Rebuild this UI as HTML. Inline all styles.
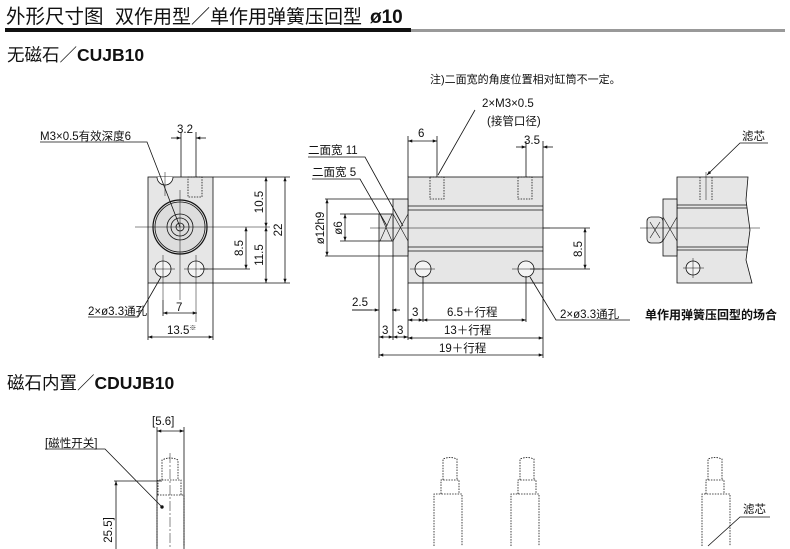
<!DOCTYPE html>
<html><head><meta charset="utf-8"><style>
html,body{margin:0;padding:0;background:#fff}
svg{display:block}
text{font-family:"Liberation Sans","Noto Sans CJK SC",sans-serif;fill:#111}
</style></head><body>
<svg width="790" height="549" viewBox="0 0 790 549" xmlns="http://www.w3.org/2000/svg">
<defs>
<marker id="a" viewBox="0 0 8 6" refX="8" refY="3" markerWidth="6" markerHeight="4" orient="auto-start-reverse"><path d="M0,0L8,3L0,6z" fill="#111"/></marker>
</defs>
<!-- Header -->
<text x="6" y="23" font-size="19.5">外形尺寸图</text>
<text x="115" y="23" font-size="19">双作用型／单作用弹簧压回型</text>
<text x="370" y="23" font-size="19" font-weight="bold">ø10</text>
<rect x="5" y="28" width="406" height="4" fill="#111"/>
<rect x="411" y="29" width="374" height="3" fill="#999"/>
<text x="7" y="61" font-size="17.5" font-weight="bold"><tspan font-weight="normal">无磁石／</tspan>CUJB10</text>
<text x="430" y="83" font-size="11">注)二面宽的角度位置相对缸筒不一定。</text>

<g stroke="#111" stroke-width="0.8" fill="none">
<!-- FRONT VIEW -->
<rect x="148" y="177" width="65" height="106" fill="#e6e6e6"/>
<path d="M157,177 A8,8 0 0 0 173,177" fill="#fff"/>
<rect x="188" y="177" width="14" height="20" stroke-dasharray="1.5 1.2"/>
<circle cx="180" cy="227" r="27" fill="#ddd" stroke-width="1.2"/>
<circle cx="180" cy="227" r="25"/>
<circle cx="180" cy="227" r="13"/>
<circle cx="180" cy="227" r="9"/>
<circle cx="180" cy="227" r="4"/>
<circle cx="163" cy="269" r="8" fill="#f4f4f4"/>
<circle cx="196" cy="269" r="8" fill="#f4f4f4"/>
<path d="M135,227H270 M180,190V300 M163,255V300 M196,255V322 M152,269H175 M184,269H208 M165,172V196" stroke-width="0.5"/>
<!-- dims front -->
<path d="M181,132V177 M196,132V177 M148,283V340 M213,283V340 M163,300V316 M213,177H290 M213,283H290 M200,269H250"/>
<path d="M171,138H181" marker-end="url(#a)"/><path d="M206,138H196" marker-end="url(#a)"/>
<path d="M163,313H197" marker-start="url(#a)" marker-end="url(#a)"/>
<path d="M148,337H213" marker-start="url(#a)" marker-end="url(#a)"/>
<path d="M266,177V227" marker-start="url(#a)" marker-end="url(#a)"/>
<path d="M266,227V283" marker-start="url(#a)" marker-end="url(#a)"/>
<path d="M285,177V283" marker-start="url(#a)" marker-end="url(#a)"/>
<path d="M246,227V269" marker-start="url(#a)" marker-end="url(#a)"/>
<path d="M40,142H147L180,227"/>
<path d="M88,317H138L161,277"/>

<!-- SIDE VIEW -->
<rect x="408" y="177" width="135" height="106" fill="#e6e6e6"/>
<path d="M408,206H543 M408,210H543 M408,247H543 M408,251H543"/>
<rect x="393" y="199" width="15" height="57" fill="#e6e6e6"/>
<rect x="379" y="214" width="14" height="27" fill="#e6e6e6"/>
<path d="M393,214L408,241M393,241L408,214 M380,214L392,241M380,241L392,214" stroke-width="0.6"/>
<rect x="430" y="177" width="14" height="22" stroke-dasharray="1.5 1.2"/>
<rect x="518" y="177" width="14" height="22" stroke-dasharray="1.5 1.2"/>
<circle cx="423" cy="269" r="8" fill="#f4f4f4"/>
<circle cx="526" cy="269" r="8" fill="#f4f4f4"/>
<path d="M370,228H550 M410,269H435 M512,269H540" stroke-width="0.5"/>
<!-- side dims -->
<path d="M408,136V177 M437,136V177 M526,141V177 M543,141V177 M325,199H393 M340,214H380 M340,241H380 M543,228H590 M530,269H590 M379,241V358 M393,256V340 M408,283V340 M543,283V358 M423,276V322 M526,276V322"/>
<path d="M408,141H437" marker-start="url(#a)" marker-end="url(#a)"/>
<path d="M516,147H526" marker-end="url(#a)"/><path d="M553,147H543" marker-end="url(#a)"/>
<path d="M327,199V256" marker-start="url(#a)" marker-end="url(#a)"/>
<path d="M325,256H393"/>
<path d="M345,214V241" marker-start="url(#a)" marker-end="url(#a)"/>
<path d="M585,228V269" marker-start="url(#a)" marker-end="url(#a)"/>
<path d="M352,310H379" marker-end="url(#a)"/><path d="M400,310H392" marker-end="url(#a)"/>
<path d="M352,310H372"/>
<path d="M379,337H393" marker-start="url(#a)" marker-end="url(#a)"/>
<path d="M393,337H408" marker-start="url(#a)" marker-end="url(#a)"/>
<path d="M408,320H423" marker-start="url(#a)" marker-end="url(#a)"/>
<path d="M423,320H526" marker-start="url(#a)" marker-end="url(#a)"/>
<path d="M408,338H543" marker-start="url(#a)" marker-end="url(#a)"/>
<path d="M379,355H543" marker-start="url(#a)" marker-end="url(#a)"/>
<path d="M308,157H365L403,226"/>
<path d="M312,179H360L387,226"/>
<path d="M475,110L438,175"/>
<path d="M630,320H556L530,277"/>

<!-- RIGHT PARTIAL -->
<path d="M677,177H748L746,200L750,230L746,260L752,283H677Z" fill="#e6e6e6"/>
<path d="M677,205H747 M677,208H747 M677,247H748 M677,250H748"/>
<rect x="663" y="199" width="14" height="57" fill="#e6e6e6"/>
<rect x="647" y="217" width="16" height="26" fill="#e6e6e6" rx="4"/>
<path d="M663,217L677,241M663,241L677,217 M650,222L660,238M650,238L660,222" stroke-width="0.6"/>
<path d="M700,177V200 M712,177V200" stroke-dasharray="1.5 1.2"/>
<path d="M706,172V200" stroke-width="0.5"/>
<circle cx="693" cy="268" r="7" fill="#f4f4f4"/>
<path d="M640,228H760 M683,268H704 M693,258V278" stroke-width="0.5"/>
<path d="M768,143H740L707,175" marker-end="url(#a)"/>

<!-- BOTTOM SECTION -->
<path d="M157,427V549 M184,427V549"/>
<path d="M157,431H184" marker-start="url(#a)" marker-end="url(#a)"/>
<path d="M170,453V549" stroke-width="0.5" stroke-dasharray="10 2 2 2"/>
<path d="M162,480V460Q170,456 178,460V480 M158,495V480H181V495 M157,546V495H184V546" stroke-dasharray="1.5 1.2"/>
<path d="M114,481H162"/>
<path d="M116,549V481" marker-end="url(#a)"/>
<path d="M45,449H105L162,507"/>
<circle cx="162" cy="507" r="1.3" fill="#111"/>
<g stroke-dasharray="1.5 1.2">
<path d="M443,480V459Q450,456 457,459V480 M441,494V480H459V494 M434,546V494H462V546"/>
<path d="M520,480V459Q527,456 534,459V480 M518,494V480H536V494 M511,546V494H539V546"/>
<path d="M708,480V459Q715,456 722,459V480 M706,494V480H724V494 M702,546V494H730V546"/>
</g>
<path d="M770,517H740L708,546"/>
</g>

<!-- labels -->
<g font-size="11.5">
<text x="40" y="140">M3×0.5有效深度6</text>
<text x="177" y="133">3.2</text>
<text x="88" y="315">2×ø3.3通孔</text>
<text x="176" y="311">7</text>
<text x="167" y="334">13.5<tspan font-size="7" dy="-4">※</tspan></text>
<text transform="translate(263,202) rotate(-90)" text-anchor="middle">10.5</text>
<text transform="translate(263,255) rotate(-90)" text-anchor="middle">11.5</text>
<text transform="translate(243,248) rotate(-90)" text-anchor="middle">8.5</text>
<text transform="translate(282,230) rotate(-90)" text-anchor="middle">22</text>

<text x="482" y="107">2×M3×0.5</text>
<text x="487" y="125">(接管口径)</text>
<text x="418" y="137">6</text>
<text x="524" y="144">3.5</text>
<text x="308" y="154">二面宽 11</text>
<text x="312" y="176">二面宽 5</text>
<text transform="translate(324,228) rotate(-90)" text-anchor="middle">ø12h9</text>
<text transform="translate(342,228) rotate(-90)" text-anchor="middle">ø6</text>
<text transform="translate(582,249) rotate(-90)" text-anchor="middle">8.5</text>
<text x="352" y="306">2.5</text>
<text x="412" y="316">3</text>
<text x="447" y="316">6.5＋行程</text>
<text x="382" y="334">3</text>
<text x="397" y="334">3</text>
<text x="444" y="334">13＋行程</text>
<text x="439" y="352">19＋行程</text>
<text x="560" y="318">2×ø3.3通孔</text>
<text x="742" y="140">滤芯</text>
<text x="645" y="319" font-weight="bold" font-size="12">单作用弹簧压回型的场合</text>

<text x="152" y="425">[5.6]</text>
<text x="45" y="447">[磁性开关]</text>
<text transform="translate(112,530) rotate(-90)" text-anchor="middle">25.5]</text>
<text x="743" y="513">滤芯</text>
</g>
<text x="7" y="389" font-size="17.5" font-weight="bold"><tspan font-weight="normal">磁石内置／</tspan>CDUJB10</text>
</svg>
</body></html>
